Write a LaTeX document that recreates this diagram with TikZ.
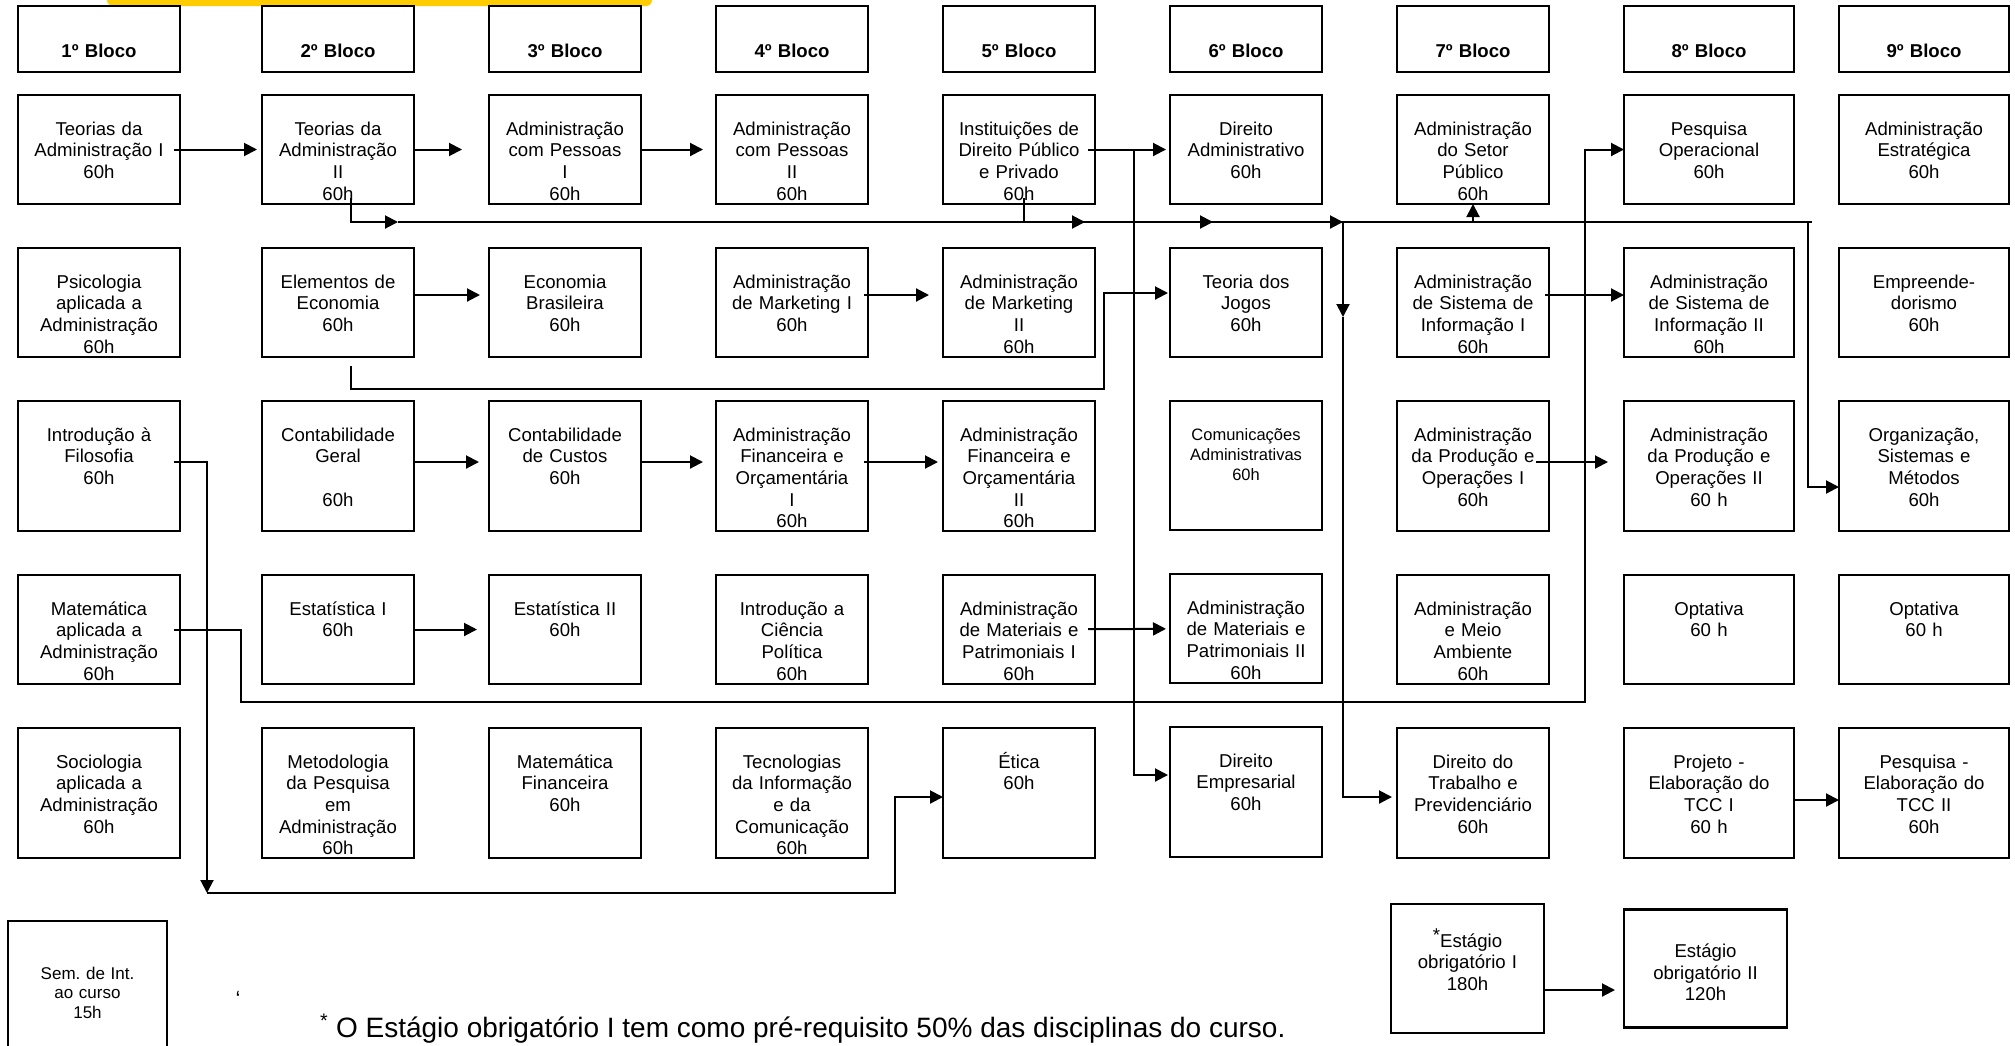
\documentclass[tikz,border=0pt]{standalone}
\usepackage{fontspec}
\setmainfont{Liberation Sans}
\usetikzlibrary{positioning,arrows.meta}
\definecolor{bannergold}{RGB}{255,204,0}

\begin{document}
\begin{tikzpicture}[x=1pt, y=-1pt, >={Triangle[length=13pt,width=13pt]},
    disc/.style={rectangle, draw, line width=2.5pt, inner sep=0pt, outer sep=0pt, text width=152pt, align=center,
      text height=40pt, text depth=69pt, font=\fontsize{18.6pt}{21.7pt}\selectfont},
    tall/.style={text depth=90pt},
    firstcol/.style={text width=162pt},
    widecol/.style={text width=170pt},
    bloco/.style={disc, text height=51pt, text depth=15pt, font=\fontsize{18.6pt}{21.7pt}\selectfont\bfseries},
    link/.style={->, line width=2pt},
    node distance=75pt]
    \useasboundingbox (0,0) rectangle (2015,1045);
    \fill[bannergold, rounded corners=6pt] (107,-20) rectangle (652,6);
    % block headers
    \node[bloco, firstcol] (h1) at (99,39) {1º Bloco};
    \node[bloco] (h2) [right=82pt of h1] {2º Bloco};
    \node[bloco] (h3) [right=of h2] {3º Bloco};
    \node[bloco] (h4) [right=of h3] {4º Bloco};
    \node[bloco] (h5) [right=of h4] {5º Bloco};
    \node[bloco] (h6) [right=of h5] {6º Bloco};
    \node[bloco] (h7) [right=of h6] {7º Bloco};
    \node[bloco, widecol] (h8) [right=of h7] {8º Bloco};
    \node[bloco, widecol] (h9) [right=45pt of h8] {9º Bloco};
    % 1
    \node[disc, firstcol] (ta1) [below=23pt of h1] {Teorias da\\Administração I\\60h};
    \node[disc, firstcol] (psi) [below=44pt of ta1] {Psicologia\\aplicada a\\Administração\\60h};
    \node[disc, firstcol, tall] (ifi) [below=44pt of psi] {Introdução à\\Filosofia\\60h};
    \node[disc, firstcol] (maa) [below=44pt of ifi] {Matemática\\aplicada a\\Administração\\60h};
    \node[disc, firstcol, tall] (soc) [below=44pt of maa] {Sociologia\\aplicada a\\Administração\\60h};
    % 2
    \node[disc] (ta2) [below=23pt of h2] {Teorias da\\Administração\\II\\60h};
    \node[disc] (ele) [below=44pt of ta2] {Elementos de\\Economia\\60h};
    \node[disc, tall] (cg) [below=44pt of ele] {Contabilidade\\Geral\\\mbox{}\\60h};
    \node[disc] (est1) [below=44pt of cg] {Estatística I\\60h};
    \node[disc, tall] (met) [below=44pt of est1] {Metodologia\\da Pesquisa\\em\\Administração\\60h};
    % 3
    \node[disc] (ap1) [below=23pt of h3] {Administração\\com Pessoas\\I\\60h};
    \node[disc] (eb) [below=44pt of ap1] {Economia\\Brasileira\\60h};
    \node[disc, tall] (cc) [below=44pt of eb] {Contabilidade\\de Custos\\60h};
    \node[disc] (est2) [below=44pt of cc] {Estatística II\\60h};
    \node[disc, tall] (mf) [below=44pt of est2] {Matemática\\Financeira\\60h};
    % 4
    \node[disc] (ap2) [below=23pt of h4] {Administração\\com Pessoas\\II\\60h};
    \node[disc] (am1) [below=44pt of ap2] {Administração\\de Marketing I\\60h};
    \node[disc, tall] (afo1) [below=44pt of am1] {Administração\\Financeira e\\Orçamentária\\I\\60h};
    \node[disc] (icp) [below=44pt of afo1] {Introdução a\\Ciência\\Política\\60h};
    \node[disc, tall] (tic) [below=44pt of icp] {Tecnologias\\da Informação\\e da\\Comunicação\\60h};
    % 5
    \node[disc] (idp) [below=23pt of h5] {Instituições de\\Direito Público\\e Privado\\60h};
    \node[disc] (am2) [below=44pt of idp] {Administração\\de Marketing\\II\\60h};
    \node[disc, tall] (afo2) [below=44pt of am2] {Administração\\Financeira e\\Orçamentária\\II\\60h};
    \node[disc] (amp1) [below=44pt of afo2] {Administração\\de Materiais e\\Patrimoniais I\\60h};
    \node[disc, tall] (eti) [below=44pt of amp1] {Ética\\60h};
    % 6
    \node[disc] (dad) [below=23pt of h6] {Direito\\Administrativo\\60h};
    \node[disc] (tj) [below=44pt of dad] {Teoria dos\\Jogos\\60h};
    \node[disc, tall, text height=39pt, font=\fontsize{16.5pt}{20pt}\selectfont] (com) [below=44pt of tj] {Comunicações\\Administrativas\\60h};
    \node[disc] (amp2) [below=44pt of com] {Administração\\de Materiais e\\Patrimoniais II\\60h};
    \node[disc, tall] (dem) [below=44pt of amp2] {Direito\\Empresarial\\60h};
    % 7
    \node[disc] (asp) [below=23pt of h7] {Administração\\do Setor\\Público\\60h};
    \node[disc] (asi1) [below=44pt of asp] {Administração\\de Sistema de\\Informação I\\60h};
    \node[disc, tall] (apo1) [below=44pt of asi1] {Administração\\da Produção e\\Operações I\\60h};
    \node[disc] (ama) [below=44pt of apo1] {Administração\\e Meio\\Ambiente\\60h};
    \node[disc, tall] (dtp) [below=44pt of ama] {Direito do\\Trabalho e\\Previdenciário\\60h};
    % 8
    \node[disc, widecol] (po) [below=23pt of h8] {Pesquisa\\Operacional\\60h};
    \node[disc, widecol] (asi2) [below=44pt of po] {Administração\\de Sistema de\\Informação II\\60h};
    \node[disc, widecol, tall] (apo2) [below=44pt of asi2] {Administração\\da Produção e\\Operações II\\60 h};
    \node[disc, widecol] (opt1) [below=44pt of apo2] {Optativa\\60 h};
    \node[disc, widecol, tall] (tcc1) [below=44pt of opt1] {Projeto -\\Elaboração do\\TCC I\\60 h};
    % 9
    \node[disc, widecol] (aes) [below=23pt of h9] {Administração\\Estratégica\\60h};
    \node[disc, widecol] (emp) [below=44pt of aes] {Empreende-\\dorismo\\60h};
    \node[disc, widecol, tall] (osm) [below=44pt of emp] {Organização,\\Sistemas e\\Métodos\\60h};
    \node[disc, widecol] (opt2) [below=44pt of osm] {Optativa\\60 h};
    \node[disc, widecol, tall] (tcc2) [below=44pt of opt2] {Pesquisa -\\Elaboração do\\TCC II\\60h};
    % estagios, seminario, nota
    \node[disc, text width=153pt, text height=43pt, text depth=86pt] (es1) at (1467.5,968.5) {\raisebox{6pt}{*}Estágio\\obrigatório I\\180h};
    \node[disc, text width=163pt, text height=48pt, text depth=70pt] (es2) [right=80pt of es1] {Estágio\\obrigatório II\\120h};
    \node[disc, text width=159pt, text height=58pt, text depth=92pt, font=\fontsize{17pt}{19.5pt}\selectfont] (sem) at (87.5,996) {Sem.\ de Int.\\ao curso\\15h};
    \node[font=\fontsize{22pt}{24pt}\selectfont] (acento) at (238,999) {\char"60};
    \node[anchor=base west, inner sep=0pt, font=\fontsize{28pt}{31pt}\selectfont] (nota) at (320,1037) {\textsuperscript{*} O Estágio obrigatório I tem como pré-requisito 50\% das disciplinas do curso.};
    % connectors
    \coordinate (jd) at (1134,149.5);
    \coordinate (b1) at (398,222);
    \coordinate (b2) at (1085,222);
    \coordinate (b3) at (1213,222);
    \coordinate (b4) at (1343,222);
    \coordinate (b5) at (1808,222);
    \coordinate (d1) at (1343,317);
    \coordinate (e1) at (1104,389);
    \coordinate (f1) at (207,893);
    \coordinate (f2) at (895,893);
    \coordinate (m1) at (241,702);
    \coordinate (m2) at (1585,149.5);
    \draw[link, shorten <=-6pt, shorten >=5pt] (ta1) -- (ta2);
    \draw[link, shorten >=27pt] (ta2) -- (ap1);
    \draw[link, shorten >=13pt] (ap1) -- (ap2);
    \draw[link, shorten <=-7pt, shorten >=4pt] (idp) -- (dad);
    \draw[link, shorten >=2pt] (jd) |- ([yshift=17pt]dem.west);
    \draw[line width=2pt] (b1) -- ([xshift=4pt]b5);
    \draw[link] ([xshift=13pt,yshift=6pt]ta2.south) |- (b1);
    \draw[link] ([xshift=5pt,yshift=6pt]idp.south) |- (b2);
    \draw[link] (b2) -- (b3);
    \draw[link] (b3) -- (b4);
    \draw[link] (b4) -- (d1);
    \draw[link, shorten >=5pt] (d1) |- ([yshift=-4pt]dtp.west);
    \draw[link] (asp.south |- b1) -- (asp.south);
    \draw[link] (b5) |- ([yshift=-21pt]osm.west);
    \draw[link, shorten >=2pt] ([xshift=13pt,yshift=-9pt]ele.south) |- (e1) |- ([yshift=9.5pt]tj.west);
    \draw[link, shorten <=-6pt] ([yshift=4pt]ifi.east) -| (f1);
    \draw[link] (f1) -- (f2) |- ([yshift=-4pt]eti.west);
    \draw[link, shorten <=-6pt] (maa.east) -| (m1) -| (m2) -- (po.west);
    \draw[link, shorten >=9pt] ([yshift=7.5pt]ele.east) -- ([yshift=7.5pt]eb.west);
    \draw[link, shorten <=-4pt, shorten >=14pt] ([yshift=7.5pt]am1.east) -- ([yshift=7.5pt]am2.west);
    \draw[link, shorten <=-4pt] ([yshift=7.5pt]asi1.east) -- ([yshift=7.5pt]asi2.west);
    \draw[link, shorten >=10pt] ([yshift=4pt]cg.east) -- ([yshift=4pt]cc.west);
    \draw[link, shorten >=13pt] ([yshift=4pt]cc.east) -- ([yshift=4pt]afo1.west);
    \draw[link, shorten <=-4pt, shorten >=5pt] ([yshift=4pt]afo1.east) -- ([yshift=4pt]afo2.west);
    \draw[link, shorten <=-13pt, shorten >=16pt] ([yshift=4pt]apo1.east) -- ([yshift=4pt]apo2.west);
    \draw[link, shorten >=12pt] (est1) -- (est2);
    \draw[link, shorten <=-7pt, shorten >=4pt] (amp1) -- (amp2);
    \draw[link] ([yshift=-7pt]tcc1.east) -- ([yshift=-7pt]tcc2.west);
    \draw[link, shorten >=9pt] ([yshift=-21.5pt]es1.east) -- ([yshift=-21.5pt]es1.east -| es2.west);
\end{tikzpicture}
\end{document}
